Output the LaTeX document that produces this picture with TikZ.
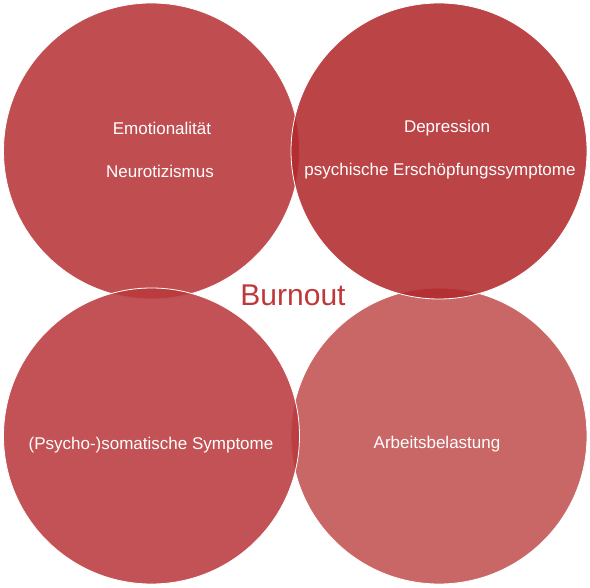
\documentclass[tikz,border=0pt]{standalone}
\usepackage{fontspec}
\setmainfont{Liberation Sans}
\definecolor{cTL}{RGB}{183,54,57}
\definecolor{cTR}{RGB}{178,42,45}
\definecolor{cBL}{RGB}{186,58,61}
\definecolor{cBR}{RGB}{194,82,81}
\definecolor{burn}{RGB}{190,56,58}
\begin{document}
\begin{tikzpicture}[x=1pt,y=-1pt,
  circ/.style={circle,minimum size=296pt,inner sep=0pt,fill opacity=0.88,draw=white,line width=0.8pt},
  lbl/.style={text=white,font=\fontsize{17}{20}\selectfont,align=center},
  big/.style={text=burn,font=\fontsize{30}{34}\selectfont}]
\useasboundingbox (0,0) rectangle (590,588);
\node[circ,fill=cTL] (tl) at (151.5,151) {};
\node[circ,fill=cBR] (br) at (439,436) {};
\node[circ,fill=cBL] (bl) at (151.5,436) {};
\node[circ,fill=cTR] (tr) at (439,151) {};
\node[lbl] (t1) at (162,128) {Emotionalität};
\node[lbl] (t2) at (160,171) {Neurotizismus};
\node[lbl] (t3) at (447,128) {Depression};
\node[lbl] (t4) at (440,171) {psychische Erschöpfungssymptome};
\node[lbl] (t5) at (151,445) {(Psycho-)somatische Symptome};
\node[lbl] (t6) at (437,444) {Arbeitsbelastung};
\node[big] (burnout) at (293,295) {Burnout};
\end{tikzpicture}
\end{document}
